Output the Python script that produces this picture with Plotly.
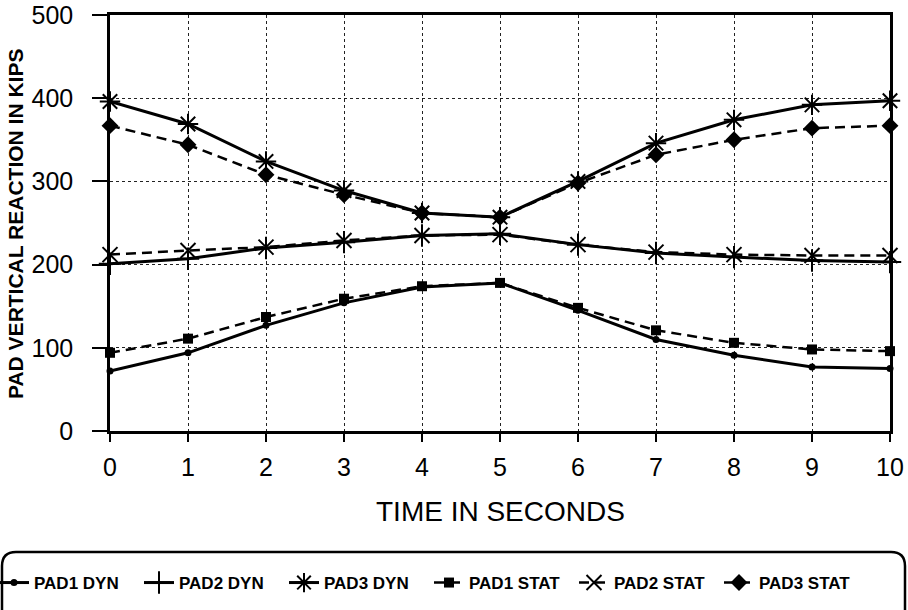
import plotly.graph_objects as go

time_s = [0, 1, 2, 3, 4, 5, 6, 7, 8, 9, 10]

pad1_dyn = [72, 94, 127, 154, 173, 178, 145, 110, 91, 77, 75]
pad2_dyn = [201, 207, 220, 227, 235, 237, 224, 214, 209, 205, 203]
pad3_dyn = [396, 369, 324, 289, 262, 257, 300, 346, 374, 392, 397]

pad1_stat = [94, 111, 137, 159, 174, 178, 148, 121, 106, 98, 96]
pad2_stat = [212, 217, 221, 229, 235, 236, 224, 215, 212, 211, 211]
pad3_stat = [367, 344, 308, 284, 262, 257, 298, 332, 350, 364, 367]

x_title = "TIME IN SECONDS"
y_title = "PAD VERTICAL REACTION IN KIPS"

series = [
    ("PAD1 DYN", pad1_dyn, "solid", 3, dict(symbol="circle", size=7)),
    ("PAD2 DYN", pad2_dyn, "solid", 3, dict(symbol="cross-thin", size=16, line=dict(width=2, color="black"))),
    ("PAD3 DYN", pad3_dyn, "solid", 3, dict(symbol="asterisk", size=17, line=dict(width=2, color="black"))),
    ("PAD1 STAT", pad1_stat, "10px,6px", 2.5, dict(symbol="square", size=10)),
    ("PAD2 STAT", pad2_stat, "10px,6px", 2.5, dict(symbol="x-thin", size=15, line=dict(width=2, color="black"))),
    ("PAD3 STAT", pad3_stat, "10px,6px", 2.5, dict(symbol="diamond", size=13)),
]

fig = go.Figure()
for name, vals, dash, w, mk in series:
    mk = dict(mk)
    mk["color"] = "black"
    fig.add_trace(go.Scatter(
        x=time_s, y=vals, name=name, mode="lines+markers",
        line=dict(color="black", width=w, dash=dash),
        marker=mk, cliponaxis=False,
    ))

# plot area pixel geometry: x 110..890, y 15..431
W, H = 908, 610
L, R, T, B = 110, 18, 15, 179
pw, ph = W - L - R, H - T - B


def px(x):
    return (x - L) / pw


def py(y):
    return (H - B - y) / ph


# legend box with rounded top corners, open below
x0, x1, ytop, ybot, r = 2, 905, 552, 640, 14
path = (f"M {px(x0)},{py(ybot)} L {px(x0)},{py(ytop + r)} "
        f"Q {px(x0)},{py(ytop)} {px(x0 + r)},{py(ytop)} "
        f"L {px(x1 - r)},{py(ytop)} "
        f"Q {px(x1)},{py(ytop)} {px(x1)},{py(ytop + r)} "
        f"L {px(x1)},{py(ybot)}")
fig.add_shape(type="path", path=path, xref="paper", yref="paper",
              line=dict(color="black", width=2.5))

fig.add_annotation(text=x_title, xref="paper", yref="paper", x=0.5, y=py(511),
                   xanchor="center", yanchor="middle", showarrow=False,
                   font=dict(family="Liberation Sans, Arial, sans-serif", size=28, color="black"))
fig.add_annotation(text=y_title, xref="paper", yref="paper", x=px(15), y=py(224),
                   xanchor="center", yanchor="middle", showarrow=False, textangle=-90,
                   font=dict(family="Liberation Sans, Arial, sans-serif", size=21, color="black", weight="bold"))

tick_font = dict(family="Liberation Sans, Arial, sans-serif", size=25, color="black")

fig.update_layout(
    width=W, height=H,
    margin=dict(l=L, r=R, t=T, b=B, pad=0, autoexpand=False),
    paper_bgcolor="white", plot_bgcolor="white",
    showlegend=True,
    legend=dict(
        orientation="h", xref="paper", x=px(-6), xanchor="left",
        yref="paper", y=py(583), yanchor="middle",
        font=dict(family="Liberation Sans, Arial, sans-serif", size=17, color="black", weight="bold"),
        entrywidth=100, entrywidthmode="pixels",
        itemwidth=30, tracegroupgap=0,
        bgcolor="rgba(0,0,0,0)",
    ),
    xaxis=dict(
        range=[0, 10], tickmode="array", tickvals=time_s,
        ticks="outside", ticklen=8, tickwidth=1.5, tickcolor="black",
        showline=True, linecolor="black", linewidth=2.5, mirror=True,
        showgrid=True, gridcolor="#222", gridwidth=1.3, griddash="dot",
        zeroline=False, tickfont=tick_font, ticklabelstandoff=4, automargin=False,
    ),
    yaxis=dict(
        range=[0, 500], tickmode="array", tickvals=[0, 100, 200, 300, 400, 500],
        ticks="outside", ticklen=15, tickwidth=1.5, tickcolor="black",
        showline=True, linecolor="black", linewidth=2.5, mirror=True,
        showgrid=True, gridcolor="#222", gridwidth=1.3, griddash="dot",
        zeroline=False, tickfont=tick_font, ticklabelstandoff=14, automargin=False,
    ),
)

fig.write_html("out.html", config={"displayModeBar": False},
               post_script="document.body.style.margin='0';document.body.style.overflow='hidden';")
